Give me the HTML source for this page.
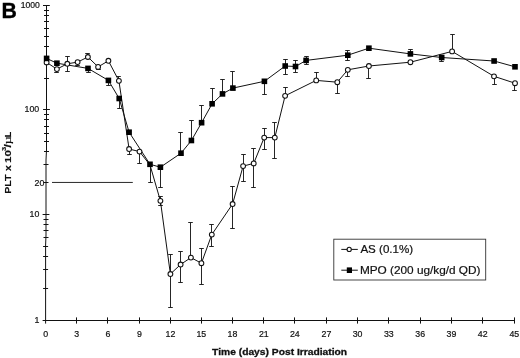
<!DOCTYPE html>
<html><head><meta charset="utf-8"><title>B</title>
<style>html,body{margin:0;padding:0;background:#fff}body{width:520px;height:358px;overflow:hidden;position:relative}</style></head>
<body>
<svg width="520" height="358" viewBox="0 0 520 358" style="position:absolute;left:0;top:0;will-change:transform">
<rect width="520" height="358" fill="#fff"/>
<g stroke="#111" stroke-width="1" fill="none" stroke-linecap="butt">
<polyline points="46.5,5 46.5,150 46.0,160 46.0,235 45.6,245 45.6,323.6"/>
<line x1="42.6" y1="320.5" x2="514.9" y2="320.5"/>
<line x1="43.10" y1="288.50" x2="48.10" y2="288.50"/>
<line x1="43.10" y1="269.50" x2="48.10" y2="269.50"/>
<line x1="43.10" y1="256.50" x2="48.10" y2="256.50"/>
<line x1="43.10" y1="246.50" x2="48.10" y2="246.50"/>
<line x1="43.50" y1="237.50" x2="48.50" y2="237.50"/>
<line x1="43.50" y1="230.50" x2="48.50" y2="230.50"/>
<line x1="43.50" y1="224.50" x2="48.50" y2="224.50"/>
<line x1="43.50" y1="219.50" x2="48.50" y2="219.50"/>
<line x1="42.60" y1="214.50" x2="49.40" y2="214.50"/>
<line x1="43.50" y1="182.50" x2="48.50" y2="182.50"/>
<line x1="43.50" y1="164.50" x2="48.50" y2="164.50"/>
<line x1="44.00" y1="151.50" x2="49.00" y2="151.50"/>
<line x1="44.00" y1="141.50" x2="49.00" y2="141.50"/>
<line x1="44.00" y1="133.50" x2="49.00" y2="133.50"/>
<line x1="44.00" y1="126.50" x2="49.00" y2="126.50"/>
<line x1="44.00" y1="119.50" x2="49.00" y2="119.50"/>
<line x1="44.00" y1="114.50" x2="49.00" y2="114.50"/>
<line x1="43.10" y1="109.50" x2="49.90" y2="109.50"/>
<line x1="44.00" y1="78.50" x2="49.00" y2="78.50"/>
<line x1="44.00" y1="59.50" x2="49.00" y2="59.50"/>
<line x1="44.00" y1="46.50" x2="49.00" y2="46.50"/>
<line x1="44.00" y1="36.50" x2="49.00" y2="36.50"/>
<line x1="44.00" y1="28.50" x2="49.00" y2="28.50"/>
<line x1="44.00" y1="21.50" x2="49.00" y2="21.50"/>
<line x1="44.00" y1="15.50" x2="49.00" y2="15.50"/>
<line x1="44.00" y1="10.50" x2="49.00" y2="10.50"/>
<line x1="43.00" y1="5.50" x2="49.80" y2="5.50"/>
<line x1="76.50" y1="317.4" x2="76.50" y2="323.6"/>
<line x1="107.50" y1="317.4" x2="107.50" y2="323.6"/>
<line x1="139.50" y1="317.4" x2="139.50" y2="323.6"/>
<line x1="170.50" y1="317.4" x2="170.50" y2="323.6"/>
<line x1="201.50" y1="317.4" x2="201.50" y2="323.6"/>
<line x1="232.50" y1="317.4" x2="232.50" y2="323.6"/>
<line x1="263.50" y1="317.4" x2="263.50" y2="323.6"/>
<line x1="294.50" y1="317.4" x2="294.50" y2="323.6"/>
<line x1="326.50" y1="317.4" x2="326.50" y2="323.6"/>
<line x1="357.50" y1="317.4" x2="357.50" y2="323.6"/>
<line x1="388.50" y1="317.4" x2="388.50" y2="323.6"/>
<line x1="420.50" y1="317.4" x2="420.50" y2="323.6"/>
<line x1="451.50" y1="317.4" x2="451.50" y2="323.6"/>
<line x1="482.50" y1="317.4" x2="482.50" y2="323.6"/>
<line x1="514.50" y1="317.4" x2="514.50" y2="323.6"/>
<line x1="52" y1="182.45" x2="132.8" y2="182.45" stroke-width="0.9"/>
</g>
<g stroke="#1a1a1a" stroke-width="0.95" fill="none">
<line x1="56.5" y1="69.1" x2="56.5" y2="72.5"/>
<line x1="54.2" y1="72.5" x2="58.8" y2="72.5"/>
<line x1="67.5" y1="56.5" x2="67.5" y2="71.5"/>
<line x1="65.2" y1="56.5" x2="69.8" y2="56.5"/>
<line x1="65.2" y1="71.5" x2="69.8" y2="71.5"/>
<line x1="77.5" y1="62.1" x2="77.5" y2="65.5"/>
<line x1="75.2" y1="65.5" x2="79.8" y2="65.5"/>
<line x1="87.5" y1="53.5" x2="87.5" y2="57.0"/>
<line x1="85.2" y1="53.5" x2="89.8" y2="53.5"/>
<line x1="98.5" y1="66.9" x2="98.5" y2="69.5"/>
<line x1="96.2" y1="69.5" x2="100.8" y2="69.5"/>
<line x1="118.5" y1="76.5" x2="118.5" y2="80.8"/>
<line x1="116.2" y1="76.5" x2="120.8" y2="76.5"/>
<line x1="129.5" y1="149.0" x2="129.5" y2="154.5"/>
<line x1="127.2" y1="154.5" x2="131.8" y2="154.5"/>
<line x1="139.5" y1="151.6" x2="139.5" y2="163.5"/>
<line x1="137.2" y1="163.5" x2="141.8" y2="163.5"/>
<line x1="160.5" y1="196.5" x2="160.5" y2="205.5"/>
<line x1="158.2" y1="196.5" x2="162.8" y2="196.5"/>
<line x1="158.2" y1="205.5" x2="162.8" y2="205.5"/>
<line x1="170.5" y1="254.5" x2="170.5" y2="307.5"/>
<line x1="168.2" y1="254.5" x2="172.8" y2="254.5"/>
<line x1="168.2" y1="307.5" x2="172.8" y2="307.5"/>
<line x1="180.5" y1="251.5" x2="180.5" y2="282.5"/>
<line x1="178.2" y1="251.5" x2="182.8" y2="251.5"/>
<line x1="178.2" y1="282.5" x2="182.8" y2="282.5"/>
<line x1="190.5" y1="222.5" x2="190.5" y2="257.6"/>
<line x1="188.2" y1="222.5" x2="192.8" y2="222.5"/>
<line x1="201.5" y1="248.5" x2="201.5" y2="284.5"/>
<line x1="199.2" y1="248.5" x2="203.8" y2="248.5"/>
<line x1="199.2" y1="284.5" x2="203.8" y2="284.5"/>
<line x1="211.5" y1="224.5" x2="211.5" y2="246.5"/>
<line x1="209.2" y1="224.5" x2="213.8" y2="224.5"/>
<line x1="209.2" y1="246.5" x2="213.8" y2="246.5"/>
<line x1="232.5" y1="186.5" x2="232.5" y2="228.5"/>
<line x1="230.2" y1="186.5" x2="234.8" y2="186.5"/>
<line x1="230.2" y1="228.5" x2="234.8" y2="228.5"/>
<line x1="243.5" y1="154.5" x2="243.5" y2="181.5"/>
<line x1="241.2" y1="154.5" x2="245.8" y2="154.5"/>
<line x1="241.2" y1="181.5" x2="245.8" y2="181.5"/>
<line x1="253.5" y1="148.5" x2="253.5" y2="187.5"/>
<line x1="251.2" y1="148.5" x2="255.8" y2="148.5"/>
<line x1="251.2" y1="187.5" x2="255.8" y2="187.5"/>
<line x1="264.5" y1="128.5" x2="264.5" y2="149.5"/>
<line x1="262.2" y1="128.5" x2="266.8" y2="128.5"/>
<line x1="262.2" y1="149.5" x2="266.8" y2="149.5"/>
<line x1="274.5" y1="122.5" x2="274.5" y2="158.5"/>
<line x1="272.2" y1="122.5" x2="276.8" y2="122.5"/>
<line x1="272.2" y1="158.5" x2="276.8" y2="158.5"/>
<line x1="285.5" y1="87.5" x2="285.5" y2="95.8"/>
<line x1="283.2" y1="87.5" x2="287.8" y2="87.5"/>
<line x1="316.5" y1="72.5" x2="316.5" y2="80.4"/>
<line x1="314.2" y1="72.5" x2="318.8" y2="72.5"/>
<line x1="337.5" y1="82.2" x2="337.5" y2="93.5"/>
<line x1="335.2" y1="93.5" x2="339.8" y2="93.5"/>
<line x1="347.5" y1="69.8" x2="347.5" y2="76.5"/>
<line x1="345.2" y1="76.5" x2="349.8" y2="76.5"/>
<line x1="368.5" y1="66" x2="368.5" y2="78.5"/>
<line x1="366.2" y1="78.5" x2="370.8" y2="78.5"/>
<line x1="452.5" y1="34.5" x2="452.5" y2="51.4"/>
<line x1="450.2" y1="34.5" x2="454.8" y2="34.5"/>
<line x1="494.5" y1="76.3" x2="494.5" y2="84.5"/>
<line x1="492.2" y1="84.5" x2="496.8" y2="84.5"/>
<line x1="514.5" y1="83.2" x2="514.5" y2="90.5"/>
<line x1="512.2" y1="90.5" x2="516.8" y2="90.5"/>
<line x1="88.5" y1="68.4" x2="88.5" y2="72.5"/>
<line x1="86.2" y1="72.5" x2="90.8" y2="72.5"/>
<line x1="108.5" y1="80.4" x2="108.5" y2="85.5"/>
<line x1="106.2" y1="85.5" x2="110.8" y2="85.5"/>
<line x1="119.5" y1="98.5" x2="119.5" y2="108.5"/>
<line x1="117.2" y1="108.5" x2="121.8" y2="108.5"/>
<line x1="150.5" y1="164.3" x2="150.5" y2="182.5"/>
<line x1="148.2" y1="182.5" x2="152.8" y2="182.5"/>
<line x1="160.5" y1="167.2" x2="160.5" y2="187.5"/>
<line x1="158.2" y1="187.5" x2="162.8" y2="187.5"/>
<line x1="180.5" y1="132.5" x2="180.5" y2="153.2"/>
<line x1="178.2" y1="132.5" x2="182.8" y2="132.5"/>
<line x1="191.5" y1="120.5" x2="191.5" y2="140.5"/>
<line x1="189.2" y1="120.5" x2="193.8" y2="120.5"/>
<line x1="201.5" y1="105.5" x2="201.5" y2="122.7"/>
<line x1="199.2" y1="105.5" x2="203.8" y2="105.5"/>
<line x1="212.5" y1="88.5" x2="212.5" y2="103.8"/>
<line x1="210.2" y1="88.5" x2="214.8" y2="88.5"/>
<line x1="222.5" y1="79.5" x2="222.5" y2="93.9"/>
<line x1="220.2" y1="79.5" x2="224.8" y2="79.5"/>
<line x1="232.5" y1="71.5" x2="232.5" y2="88.1"/>
<line x1="230.2" y1="71.5" x2="234.8" y2="71.5"/>
<line x1="264.5" y1="81.3" x2="264.5" y2="94.5"/>
<line x1="262.2" y1="94.5" x2="266.8" y2="94.5"/>
<line x1="285.5" y1="59.5" x2="285.5" y2="74.5"/>
<line x1="283.2" y1="59.5" x2="287.8" y2="59.5"/>
<line x1="283.2" y1="74.5" x2="287.8" y2="74.5"/>
<line x1="295.5" y1="60.5" x2="295.5" y2="72.5"/>
<line x1="293.2" y1="60.5" x2="297.8" y2="60.5"/>
<line x1="293.2" y1="72.5" x2="297.8" y2="72.5"/>
<line x1="306.5" y1="56.5" x2="306.5" y2="64.5"/>
<line x1="304.2" y1="56.5" x2="308.8" y2="56.5"/>
<line x1="304.2" y1="64.5" x2="308.8" y2="64.5"/>
<line x1="347.5" y1="50.5" x2="347.5" y2="60.5"/>
<line x1="345.2" y1="50.5" x2="349.8" y2="50.5"/>
<line x1="345.2" y1="60.5" x2="349.8" y2="60.5"/>
<line x1="410.5" y1="49.5" x2="410.5" y2="53.9"/>
<line x1="408.2" y1="49.5" x2="412.8" y2="49.5"/>
<line x1="441.5" y1="57.5" x2="441.5" y2="61.5"/>
<line x1="439.2" y1="61.5" x2="443.8" y2="61.5"/>
</g>
<polyline points="46.6,62.4 56.9,69.1 67.3,63.8 77.6,62.1 87.9,57.0 98.1,66.9 108.4,60.8 118.9,80.8 129.1,149.0 139.5,151.6 150.0,165 160.4,200.8 170.4,274 180.6,264.5 190.9,257.6 201.4,263.2 211.8,234.6 232.6,204 243.1,166.1 253.7,163.4 264.2,137.6 274.8,137.6 285.1,95.8 316.2,80.4 337.3,82.2 347.8,69.8 368.9,66 410.4,62.2 452.1,51.4 494,76.3 515,83.2" fill="none" stroke="#111" stroke-width="1.0" stroke-linejoin="round"/>
<polyline points="46.6,58.4 56.9,63.2 88.0,68.4 108.4,80.4 119.2,98.5 129.1,132.2 150.0,164.3 160.4,167.2 181,153.2 191.4,140.5 201.6,122.7 212.1,103.8 222.5,93.9 232.9,88.1 264.4,81.3 285.2,66 295.5,66.5 306.1,60.4 347.8,55.2 368.9,48.2 410.4,53.9 441.7,57.5 494.1,61.0 515,66.8" fill="none" stroke="#111" stroke-width="1.0" stroke-linejoin="round"/>
<g fill="#fff" stroke="#111" stroke-width="1.05">
<circle cx="46.6" cy="62.4" r="2.4"/>
<circle cx="56.9" cy="69.1" r="2.4"/>
<circle cx="67.3" cy="63.8" r="2.4"/>
<circle cx="77.6" cy="62.1" r="2.4"/>
<circle cx="87.9" cy="57.0" r="2.4"/>
<circle cx="98.1" cy="66.9" r="2.4"/>
<circle cx="108.4" cy="60.8" r="2.4"/>
<circle cx="118.9" cy="80.8" r="2.4"/>
<circle cx="129.1" cy="149.0" r="2.4"/>
<circle cx="139.5" cy="151.6" r="2.4"/>
<circle cx="160.4" cy="200.8" r="2.4"/>
<circle cx="170.4" cy="274" r="2.4"/>
<circle cx="180.6" cy="264.5" r="2.4"/>
<circle cx="190.9" cy="257.6" r="2.4"/>
<circle cx="201.4" cy="263.2" r="2.4"/>
<circle cx="211.8" cy="234.6" r="2.4"/>
<circle cx="232.6" cy="204" r="2.4"/>
<circle cx="243.1" cy="166.1" r="2.4"/>
<circle cx="253.7" cy="163.4" r="2.4"/>
<circle cx="264.2" cy="137.6" r="2.4"/>
<circle cx="274.8" cy="137.6" r="2.4"/>
<circle cx="285.1" cy="95.8" r="2.4"/>
<circle cx="316.2" cy="80.4" r="2.4"/>
<circle cx="337.3" cy="82.2" r="2.4"/>
<circle cx="347.8" cy="69.8" r="2.4"/>
<circle cx="368.9" cy="66" r="2.4"/>
<circle cx="410.4" cy="62.2" r="2.4"/>
<circle cx="452.1" cy="51.4" r="2.4"/>
<circle cx="494" cy="76.3" r="2.4"/>
<circle cx="515" cy="83.2" r="2.4"/>
</g>
<g fill="#000">
<rect x="43.80" y="55.60" width="5.6" height="5.6"/>
<rect x="54.10" y="60.40" width="5.6" height="5.6"/>
<rect x="85.20" y="65.60" width="5.6" height="5.6"/>
<rect x="105.60" y="77.60" width="5.6" height="5.6"/>
<rect x="116.40" y="95.70" width="5.6" height="5.6"/>
<rect x="126.30" y="129.40" width="5.6" height="5.6"/>
<rect x="147.20" y="161.50" width="5.6" height="5.6"/>
<rect x="157.60" y="164.40" width="5.6" height="5.6"/>
<rect x="178.20" y="150.40" width="5.6" height="5.6"/>
<rect x="188.60" y="137.70" width="5.6" height="5.6"/>
<rect x="198.80" y="119.90" width="5.6" height="5.6"/>
<rect x="209.30" y="101.00" width="5.6" height="5.6"/>
<rect x="219.70" y="91.10" width="5.6" height="5.6"/>
<rect x="230.10" y="85.30" width="5.6" height="5.6"/>
<rect x="261.60" y="78.50" width="5.6" height="5.6"/>
<rect x="282.40" y="63.20" width="5.6" height="5.6"/>
<rect x="292.70" y="63.70" width="5.6" height="5.6"/>
<rect x="303.30" y="57.60" width="5.6" height="5.6"/>
<rect x="345.00" y="52.40" width="5.6" height="5.6"/>
<rect x="366.10" y="45.40" width="5.6" height="5.6"/>
<rect x="407.60" y="51.10" width="5.6" height="5.6"/>
<rect x="438.90" y="54.70" width="5.6" height="5.6"/>
<rect x="491.30" y="58.20" width="5.6" height="5.6"/>
<rect x="512.20" y="64.00" width="5.6" height="5.6"/>
</g>
<rect x="333.8" y="239.2" width="151.9" height="40.8" fill="#fff" stroke="#333" stroke-width="0.9"/>
<g stroke="#111" stroke-width="1" ><line x1="341.3" y1="249.4" x2="357.8" y2="249.4"/><line x1="341.3" y1="270.2" x2="357.8" y2="270.2"/>
<circle cx="349.2" cy="249.4" r="2.1" fill="#fff" stroke-width="1.1"/><rect x="346.8" y="267.4" width="5.2" height="5.6" fill="#000" stroke="none"/></g>
<g font-family="'Liberation Sans', Arial, sans-serif" fill="#111">
<text x="360.4" y="252.9" font-size="11" textLength="52.8" lengthAdjust="spacingAndGlyphs" stroke="#111" stroke-width="0.2">AS (0.1%)</text>
<text x="359.9" y="273.9" font-size="11" textLength="120.6" lengthAdjust="spacingAndGlyphs" stroke="#111" stroke-width="0.2">MPO (200 ug/kg/d QD)</text>
<g font-size="8.8" text-anchor="end" stroke="#111" stroke-width="0.2">
<text x="39.8" y="7.9" font-size="8.6">1000</text>
<text x="39.2" y="112">100</text>
<text x="44.4" y="186.4">20</text>
<text x="39.3" y="216.7">10</text>
<text x="39.3" y="322.9">1</text>
</g>
<g font-size="8.8" text-anchor="middle" stroke="#111" stroke-width="0.2">
<text x="45.6" y="336.8">0</text>
<text x="76.7" y="336.8">3</text>
<text x="108.0" y="336.8">6</text>
<text x="139.4" y="336.8">9</text>
<text x="170.5" y="336.8">12</text>
<text x="201.3" y="336.8">15</text>
<text x="232.5" y="336.8">18</text>
<text x="263.8" y="336.8">21</text>
<text x="294.8" y="336.8">24</text>
<text x="326.4" y="336.8">27</text>
<text x="357.6" y="336.8">30</text>
<text x="388.8" y="336.8">33</text>
<text x="420.2" y="336.8">36</text>
<text x="451.5" y="336.8">39</text>
<text x="482.7" y="336.8">42</text>
<text x="514.3" y="336.8">45</text>
</g>
<text x="212.1" y="355.1" font-size="9.8" font-weight="bold" stroke="#111" stroke-width="0.3" textLength="135" lengthAdjust="spacingAndGlyphs">Time (days) Post Irradiation</text>
<g transform="translate(11.3,193.1) rotate(-90) scale(1,0.94)" font-size="10.3" font-weight="bold" stroke="#111" stroke-width="0.15"><text transform="translate(-0.75,0) scale(1.04,1)" >PLT</text><text transform="translate(22.2,0) scale(1.0,1)" >x</text><text transform="translate(30.2,0) scale(1.12,1)" >10</text><text transform="translate(42.0,-5.6) scale(1.35,1)" font-size="5.6">3</text><text transform="translate(45.7,0) scale(1.2,1)" >/</text><text transform="translate(48.7,0) scale(1.3,1)" font-family="Liberation Serif, serif" font-size="11.5" font-weight="normal">µ</text><text transform="translate(55.9,0) scale(0.87,1)" >L</text></g>
<text transform="translate(1.5,17.8) scale(1,1.05)" font-size="21.3" font-weight="bold" fill="#000" stroke="#000" stroke-width="0.3">B</text>
</g>
</svg>
</body></html>
